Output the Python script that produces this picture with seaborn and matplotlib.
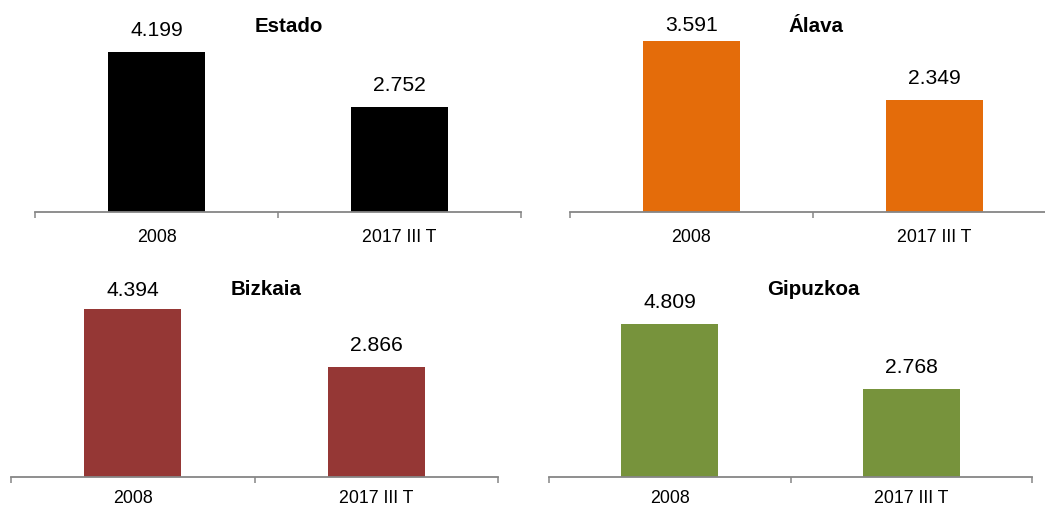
import matplotlib
matplotlib.use("Agg")
import matplotlib.pyplot as plt
import seaborn as sns
import pandas as pd

# Datos (miles)
categorias = ["2008", "2017 III T"]
territorios = ["Estado", "Álava", "Bizkaia", "Gipuzkoa"]
estado = [4199, 2752]
alava = [3591, 2349]
bizkaia = [4394, 2866]
gipuzkoa = [4809, 2768]
valores = [estado, alava, bizkaia, gipuzkoa]
colores = ["#000000", "#E46C0A", "#953735", "#77933C"]

sns.set_style("white")
plt.rcParams["font.family"] = ["Liberation Sans", "DejaVu Sans"]
plt.rcParams["text.color"] = "black"

W, H = 1045, 507
fig = plt.figure(figsize=(W / 100, H / 100), dpi=100)

# posicion de cada panel en pixeles: izquierda, ancho, linea base, y max, titulo x, titulo y (baseline)
paneles = [
    (35, 486, 212, 5250, 289, 32),
    (570, 486, 212, 4200, 816, 32),
    (11, 487, 477, 5230, 266, 295),
    (549, 483, 477, 6290, 813, 295),
]
alto_px = 200
offsets = [[16, 16], [10, 16], [13, 16], [16, 16]]
gris = "#868686"

for i, (nombre, vals, col, (x0, w, base, ymax, tx, ty)) in enumerate(zip(territorios, valores, colores, paneles)):
    ax = fig.add_axes([x0 / W, (H - base) / H, w / W, alto_px / H])
    df = pd.DataFrame({"periodo": categorias, "valor": vals})
    sns.barplot(data=df, x="periodo", y="valor", color=col, width=0.4,
                saturation=1, ax=ax, edgecolor="none")
    ax.set_xlim(-0.5, 1.5)
    ax.set_ylim(0, ymax)
    ax.set_xlabel("")
    ax.set_ylabel("")
    ax.set_yticks([])
    for s in ["left", "top", "right"]:
        ax.spines[s].set_visible(False)
    ax.spines["bottom"].set_color(gris)
    ax.spines["bottom"].set_linewidth(1.3)
    ax.set_xticks([-0.5, 0.5, 1.5], minor=True)
    ax.tick_params(axis="x", which="minor", length=4.5, width=1.1, color=gris, direction="out", bottom=True)
    pad = 12 if i < 2 else 9.5
    ax.tick_params(axis="x", which="major", length=0, labelsize=12.8, pad=pad, labelcolor="black")
    ax.patch.set_alpha(0)

    for j, v in enumerate(vals):
        ax.annotate(f"{v:,}".replace(",", "."), (j, v), xytext=(0, offsets[i][j] * 0.72),
                    textcoords="offset points", ha="center", va="baseline", fontsize=15.2,
                    color="black", annotation_clip=False)

    fig.text(tx / W, (H - ty) / H, nombre, ha="center", va="baseline",
             fontsize=14.8, fontweight="bold", color="black")

fig.savefig("out.png", dpi=100)
